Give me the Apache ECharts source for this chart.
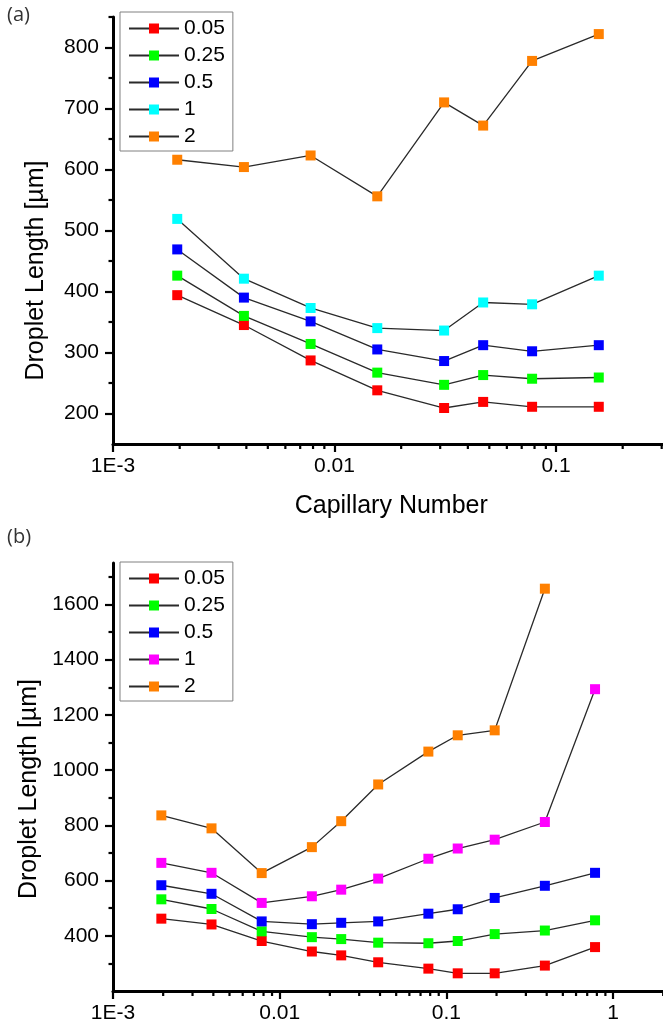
<!DOCTYPE html>
<html>
<head>
<meta charset="utf-8">
<script src="https://cdn.jsdelivr.net/npm/echarts@6/dist/echarts.min.js"></script>
<style>
html,body{margin:0;padding:0;background:#fff;}
#chart{width:663px;height:1024px;}
</style>
</head>
<body>
<div id="chart"></div>
<script>
// ---------- Data ----------
const seriesNames = ['0.05', '0.25', '0.5', '1', '2'];

// Panel (a)
const capA = [0.00195, 0.0039, 0.0078, 0.0156, 0.03125, 0.0469, 0.078, 0.156];
const a005 = [394, 345, 287, 238, 209, 219, 211, 211];
const a025 = [426, 360, 314, 267, 247, 263, 257, 259];
const a05  = [469, 390, 351, 305, 286, 312, 302, 312];
const a1   = [519, 421, 373, 340, 336, 382, 379, 426];
const a2   = [616, 604, 623, 556, 710, 672, 778, 822];

// Panel (b)
const capB = [0.00195, 0.0039, 0.0078, 0.0156, 0.0234, 0.039, 0.078, 0.117, 0.195, 0.39, 0.78];
const b005 = [462, 441, 381, 343, 329, 304, 281, 264, 264, 292, 359];
const b025 = [532, 497, 416, 395, 388, 375, 373, 381, 406, 419, 456];
const b05  = [583, 552, 452, 442, 447, 452, 480, 496, 537, 581, 628];
const b1   = [664, 628, 519, 543, 567, 607, 679, 716, 748, 812, 1293];
const b2   = [836, 789, 627, 721, 815, 948, 1067, 1126, 1144, 1657];

// Tick values / labels
const yMajorA = [200, 300, 400, 500, 600, 700, 800];
const yMinorA = [250, 350, 450, 550, 650, 750, 850];
const yMajorB = [400, 600, 800, 1000, 1200, 1400, 1600];
const yMinorB = [300, 500, 700, 900, 1100, 1300, 1500, 1700];
const minorMantissa = [2, 3, 4, 5, 6, 7, 8, 9];
const decadesA = [0.001, 0.01, 0.1];
const decadesB = [0.001, 0.01, 0.1, 1];
const xTickText = {'-3': '1E-3', '-2': '0.01', '-1': '0.1', '0': '1', '1': '10'};

const colorsA = ['#ff0000', '#00ff00', '#0000ff', '#00ffff', '#ff8000'];
const colorsB = ['#ff0000', '#00ff00', '#0000ff', '#ff00ff', '#ff8000'];

// ---------- Build ----------
const FONT = "'Liberation Sans', Arial, sans-serif";
const minorXA = [];
decadesA.forEach(d => minorMantissa.forEach(m => minorXA.push(d * m)));
const minorXB = [];
decadesB.forEach(d => minorMantissa.forEach(m => minorXB.push(d * m)));

function zip(xs, ys) { return ys.map((y, i) => [xs[i], y]); }

function lineSeries(prefix, idx, name, xs, ys, color) {
  return {
    type: 'line',
    name: prefix + name,
    xAxisIndex: idx, yAxisIndex: idx * 2,
    data: zip(xs, ys),
    symbol: 'rect', symbolSize: 10,
    lineStyle: {color: '#2a2a2a', width: 1.3},
    itemStyle: {color: color},
    emphasis: {disabled: true},
    animation: false, z: 3
  };
}

function minorTickSeries(idx, vals, ymin) {
  return {
    type: 'custom',
    xAxisIndex: idx, yAxisIndex: idx * 2,
    data: vals.map(v => [v, ymin]),
    silent: true, animation: false, z: 5, clip: false,
    renderItem: function (params, api) {
      const p = api.coord([api.value(0), api.value(1)]);
      return {type: 'line', shape: {x1: p[0], y1: p[1], x2: p[0], y2: p[1] + 5},
              style: {stroke: '#000', lineWidth: 2.2}};
    }
  };
}

function xAxisCfg(idx, max, nameCfg) {
  const cfg = {
    type: 'log', logBase: 10, gridIndex: idx, min: 0.001, max: max,
    axisLine: {show: true, onZero: false, lineStyle: {color: '#000', width: 3}},
    axisTick: {show: true, length: 8, lineStyle: {color: '#000', width: 2.2}},
    axisLabel: {color: '#000', fontSize: 21, fontFamily: FONT, margin: 12,
      formatter: v => xTickText[String(Math.round(Math.log10(v)))] || ''},
    splitLine: {show: false}, minorTick: {show: false}
  };
  return Object.assign(cfg, nameCfg || {});
}

function yAxisPair(idx, min, max, majors, minors, nameCfg) {
  const main = Object.assign({
    type: 'value', gridIndex: idx, min: min, max: max, position: 'left',
    axisLine: {show: true, onZero: false, lineStyle: {color: '#000', width: 3}},
    axisTick: {show: true, length: 8, customValues: majors, lineStyle: {color: '#000', width: 2.2}},
    axisLabel: {show: true, customValues: majors, color: '#000', fontSize: 21, fontFamily: FONT, margin: 14,
      formatter: v => String(v)},
    splitLine: {show: false}
  }, nameCfg);
  const minor = {
    type: 'value', gridIndex: idx, min: min, max: max, position: 'left', offset: 0,
    axisLine: {show: false},
    axisTick: {show: true, length: 4.5, customValues: minors, lineStyle: {color: '#000', width: 2.2}},
    axisLabel: {show: false},
    splitLine: {show: false}
  };
  return [main, minor];
}

const yNameStyle = (pad) => ({
  name: 'Droplet Length [µm]', nameLocation: 'middle', nameGap: 64,
  nameTextStyle: {fontSize: 25, fontFamily: FONT, color: '#000', padding: pad}
});

const series = [];
seriesNames.forEach((n, i) => series.push(lineSeries('a:', 0, n, capA, [a005, a025, a05, a1, a2][i], colorsA[i])));
seriesNames.forEach((n, i) => series.push(lineSeries('b:', 1, n, capB, [b005, b025, b05, b1, b2][i], colorsB[i])));
series.push(minorTickSeries(0, minorXA, 150));
series.push(minorTickSeries(1, minorXB, 200));

const legendCfg = (prefix, top) => ({
  orient: 'vertical', left: 120, top: top,
  data: seriesNames.map(n => prefix + n),
  formatter: name => name.slice(2),
  itemWidth: 50, itemHeight: 12.5, itemGap: 6,
  padding: [6, 8, 4, 8],
  borderColor: '#808080', borderWidth: 1,
  textStyle: {fontSize: 21, fontFamily: FONT, color: '#000'},
  selectedMode: false
});

const option = {
  backgroundColor: '#fff',
  animation: false,
  grid: [
    {left: 113, width: 664.5, top: 17, height: 427, containLabel: false, outerBoundsMode: 'none'},
    {left: 113, width: 666.7, top: 563, height: 428, containLabel: false, outerBoundsMode: 'none'}
  ],
  xAxis: [
    xAxisCfg(0, 1, {name: 'Capillary Number', nameLocation: 'middle', nameGap: 50,
      nameTextStyle: {fontSize: 25, fontFamily: FONT, color: '#000', padding: [0, 108, 0, 0]}}),
    xAxisCfg(1, 10)
  ],
  yAxis: [].concat(
    yAxisPair(0, 150, 850, yMajorA, yMinorA, yNameStyle([0, 80, 0, 0])),
    yAxisPair(1, 200, 1750, yMajorB, yMinorB, yNameStyle([0, 24, 0, 0]))
  ),
  legend: [legendCfg('a:', 12), legendCfg('b:', 562)],
  graphic: [
    {type: 'text', left: 7, top: 5, style: {text: '(a)', fontSize: 20, fontFamily: 'Open Sans, sans-serif', fill: '#333'}},
    {type: 'text', left: 7, top: 527, style: {text: '(b)', fontSize: 20, fontFamily: 'Open Sans, sans-serif', fill: '#333'}}
  ],
  series: series
};

const chart = echarts.init(document.getElementById('chart'), null, {renderer: 'canvas'});
chart.setOption(option);
</script>
</body>
</html>
